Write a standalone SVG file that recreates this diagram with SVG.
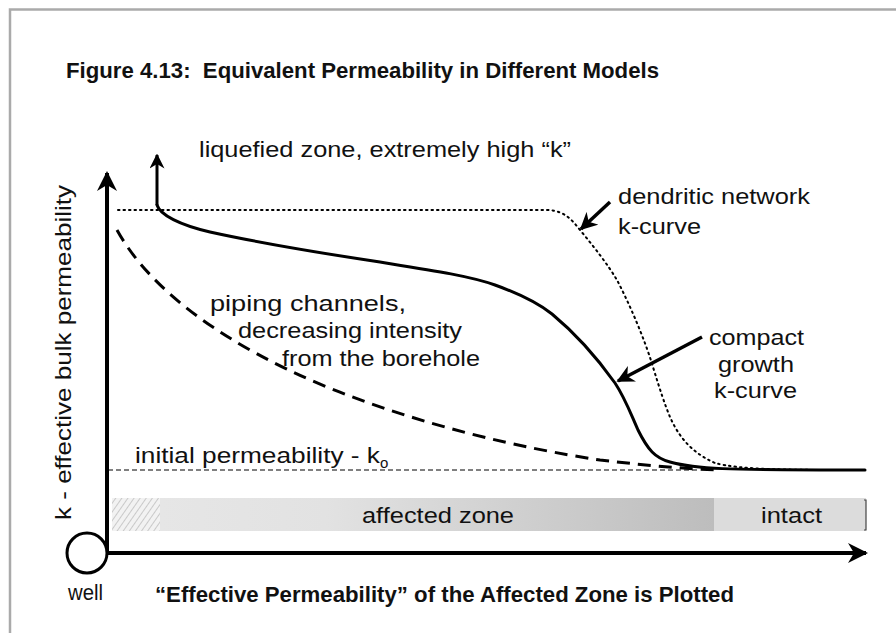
<svg xmlns="http://www.w3.org/2000/svg" width="896" height="633" viewBox="0 0 896 633">
<style>
  .t { font-family: "Liberation Sans", Arial, sans-serif; fill: #111; font-size: 22px; }
  .b { font-weight: bold; }
  .ax { stroke: #000; stroke-width: 4; fill: none; }
</style>
<defs>
  <marker id="ah" viewBox="0 0 10 10" refX="9" refY="5" markerWidth="5" markerHeight="5" markerUnits="strokeWidth" orient="auto">
    <path d="M0,0 L10,5 L0,10 L3,5 z" fill="#000"/>
  </marker>
  <marker id="ah2" viewBox="0 0 10 10" refX="9" refY="5" markerWidth="5" markerHeight="5" markerUnits="strokeWidth" orient="auto">
    <path d="M0,0 L10,5 L0,10 L3,5 z" fill="#000"/>
  </marker>
  <pattern id="hatch" width="5" height="5" patternUnits="userSpaceOnUse" patternTransform="rotate(35)">
    <rect width="5" height="5" fill="#f2f2f2"/>
    <line x1="0" y1="0" x2="0" y2="5" stroke="#bbb" stroke-width="1.5"/>
  </pattern>
  <linearGradient id="grad" x1="0" y1="0" x2="1" y2="0">
    <stop offset="0" stop-color="#e6e6e6"/>
    <stop offset="0.3" stop-color="#e2e2e2"/>
    <stop offset="1" stop-color="#bdbdbd"/>
  </linearGradient>
</defs>
<rect width="896" height="633" fill="#fff"/>
<path d="M10,640 L10,9.5 L900,9.5" fill="none" stroke="#aaa" stroke-width="2.5"/>

<text class="t b" x="66" y="78" font-size="19" textLength="593" lengthAdjust="spacingAndGlyphs">Figure 4.13:&#160; Equivalent Permeability in Different Models</text>

<g id="bar">
  <rect x="112" y="498" width="48" height="33" fill="url(#hatch)"/>
  <rect x="160" y="498" width="554" height="33" fill="url(#grad)"/>
  <rect x="714" y="498" width="152" height="33" fill="#dcdcdc"/>
  <path d="M864,500 L866,500 L866,530 L864,530" fill="none" stroke="#444" stroke-width="1.2"/>
  <text class="t" x="362" y="523" textLength="152" lengthAdjust="spacingAndGlyphs">affected zone</text>
  <text class="t" x="761" y="523" textLength="61" lengthAdjust="spacingAndGlyphs">intact</text>
</g>

<g id="connectors">
  <line x1="108" y1="470" x2="700" y2="470" stroke="#000" stroke-width="1" stroke-dasharray="5,3"/>
  <path d="M118,210 L548,210 C565,211 572,220 580,230 C595,248 608,265 617,280 C630,305 645,340 653,367 C660,390 665,405 670,417 C678,435 690,452 715,463 C740,470 790,470 865,470" fill="none" stroke="#000" stroke-width="2" stroke-dasharray="1.5,4" stroke-linecap="round"/>
  <path d="M117,230 C150,290 225,345 327,387 C420,425 520,448 600,460 C650,466 690,469 720,470" fill="none" stroke="#000" stroke-width="3" stroke-dasharray="13,8"/>
  <path d="M157,205 C160,215 180,225 210,232 C260,243 320,253 380,262 C430,270 470,276 495,285 C520,294 538,303 552,314 C575,333 595,355 615,383 C625,398 630,412 638,430 C648,450 655,458 670,462 C695,469 720,470 865,470" fill="none" stroke="#000" stroke-width="3" stroke-linecap="round"/>
  <path d="M157,205 L157,155" fill="none" stroke="#000" stroke-width="3" marker-end="url(#ah2)"/>
  <path d="M610,202 L581,229" fill="none" stroke="#000" stroke-width="3.5" marker-end="url(#ah2)"/>
  <path d="M702,337 L618,381" fill="none" stroke="#000" stroke-width="3.5" marker-end="url(#ah2)"/>
  <path d="M107,553 L107,173" class="ax" marker-end="url(#ah)"/>
  <path d="M107,553 L866,553" class="ax" marker-end="url(#ah)"/>
</g>

<g id="well">
  <circle cx="87" cy="553" r="20" fill="#fff" stroke="#000" stroke-width="3"/>
  <text class="t" x="68" y="600" font-size="16" textLength="35" lengthAdjust="spacingAndGlyphs">well</text>
</g>

<text class="t" transform="translate(71,520) rotate(-90)" textLength="335" lengthAdjust="spacingAndGlyphs">k - effective bulk permeability</text>
<text class="t" x="199" y="157" textLength="372" lengthAdjust="spacingAndGlyphs">liquefied zone, extremely high “k”</text>
<text class="t" x="618" y="204" textLength="192" lengthAdjust="spacingAndGlyphs">dendritic network</text>
<text class="t" x="618" y="234" textLength="83" lengthAdjust="spacingAndGlyphs">k-curve</text>
<text class="t" x="709" y="345" textLength="95" lengthAdjust="spacingAndGlyphs">compact</text>
<text class="t" x="718" y="372" textLength="76" lengthAdjust="spacingAndGlyphs">growth</text>
<text class="t" x="714" y="398" textLength="83" lengthAdjust="spacingAndGlyphs">k-curve</text>
<text class="t" x="210" y="311" textLength="196" lengthAdjust="spacingAndGlyphs">piping channels,</text>
<text class="t" x="238" y="338" textLength="224" lengthAdjust="spacingAndGlyphs">decreasing intensity</text>
<text class="t" x="282" y="366" textLength="198" lengthAdjust="spacingAndGlyphs">from the borehole</text>
<text class="t" x="135" y="463"><tspan textLength="245" lengthAdjust="spacingAndGlyphs">initial permeability - k</tspan><tspan font-size="15" dy="5">o</tspan></text>
<text class="t b" x="155" y="602" font-size="19" textLength="579" lengthAdjust="spacingAndGlyphs">“Effective Permeability” of the Affected Zone is Plotted</text>
</svg>
